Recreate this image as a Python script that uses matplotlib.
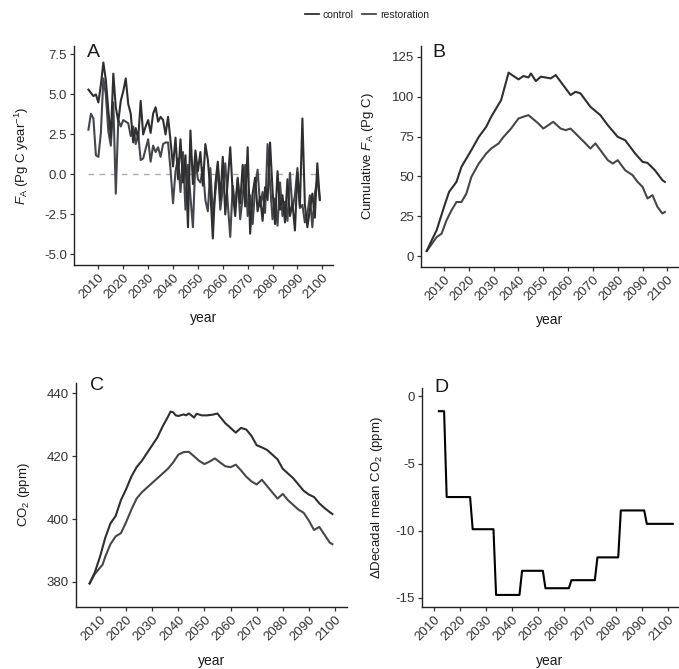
import numpy as np
import matplotlib
matplotlib.use("Agg")
import matplotlib.pyplot as plt
from matplotlib.lines import Line2D

plt.rcParams['font.family'] = ['Liberation Sans', 'DejaVu Sans']
plt.rcParams['mathtext.fontset'] = 'custom'
plt.rcParams['mathtext.rm'] = 'Liberation Sans'
plt.rcParams['mathtext.it'] = 'Liberation Sans:italic'
plt.rcParams['axes.unicode_minus'] = False

# ── data ─────────────────────────────────────────────────
years = np.arange(2006, 2100)

# A: annual atmospheric flux F_A (Pg C / year)
fa_control = [5.3, 5.1, 4.9, 5.0, 4.5, 5.6, 7.0, 5.9, 4.0, 2.3,
              6.3, 4.2, 3.3, 4.6, 5.2, 6.0, 4.4, 3.8, 2.0, 2.9,
              2.2, 4.6, 2.5, 3.0, 3.4, 2.6, 3.8, 4.2, 3.3, 3.6,
              3.4, 2.5, 3.6, 2.1, 0.5, 2.3, -0.3, 2.2, -0.5, 1.2,
              -3.3, 2.75, -0.6, 1.5, 0.2, 1.4, -0.7, 1.9, 0.9, -1.0,
              -4.0, -0.6, 0.8, -1.6, 1.1, -2.5, -0.4, 1.7, -1.2, -2.6,
              -0.3, -1.8, 0.6, -2.0, 1.7, -3.7, -1.2, -0.2, -2.3, -1.4,
              -2.9, -0.8, -1.6, 2.0, -1.0, -3.1, 0.2, -2.2, -1.3, -3.0,
              -0.3, -2.6, -1.8, -3.5, 0.1, -2.0, 3.5, -1.9, -3.3, -2.2,
              -1.2, -2.7, 0.7, -1.6]
fa_restoration = [2.8, 3.8, 3.5, 1.2, 1.1, 2.6, 6.0, 5.0, 2.7, 1.8,
                  4.5, -1.2, 3.4, 3.0, 3.4, 3.3, 3.2, 2.4, 3.0, 1.9,
                  2.5, 0.9, 1.0, 1.6, 2.2, 0.8, 1.8, 1.4, 1.7, 1.1,
                  1.9, 2.0, 2.0, 0.3, -1.8, 0.2, 1.0, -1.1, 1.4, -2.2,
                  0.6, -1.4, -3.3, 0.9, -0.3, -0.5, 0.4, -1.6, -2.3, 0.4,
                  -2.5, -1.2, 0.6, -2.2, -0.9, 0.7, -1.8, -3.9, -0.7, -2.0,
                  -0.2, -2.8, -1.4, 0.6, -2.6, -1.3, -3.1, -0.9, 0.3, -2.0,
                  -1.1, -2.4, 1.9, -0.6, -2.8, -1.5, -3.2, -0.5, -2.6, -1.7,
                  -2.9, 0.1, -2.2, -1.3, 0.4, -2.1, -1.9, -3.0, -2.5, -1.3,
                  -3.3, -1.2, -0.3, -1.5]

# B: cumulative F_A (Pg C)
cum_years_control = [2003, 2005, 2007, 2010, 2012, 2015, 2017, 2021, 2024, 2027,
                     2029, 2033, 2036, 2040, 2042, 2044, 2045, 2047, 2049, 2053,
                     2055, 2056, 2061, 2063, 2065, 2069, 2073, 2076, 2080, 2083,
                     2087, 2090, 2092, 2095, 2098, 2099]
cum_control = [3.3, 10, 16.3, 31, 40.3, 46.6, 56, 66.5, 74.8, 81.1,
               87.4, 97.8, 115, 110.8, 112.9, 112, 114.5, 109.7, 112.5, 111.4,
               113.5, 111.4, 101, 103, 102, 93.6, 88.4, 82.1, 74.8, 72.7,
               64.4, 59.2, 58.5, 53.9, 47.7, 46.6]
cum_years_restoration = [2003, 2007, 2009, 2011, 2013, 2015, 2017, 2019, 2021, 2024,
                         2027, 2029, 2032, 2034, 2037, 2040, 2042, 2044, 2048, 2050,
                         2052, 2054, 2057, 2059, 2061, 2063, 2067, 2069, 2071, 2074,
                         2076, 2078, 2080, 2083, 2086, 2088, 2090, 2092, 2094, 2096,
                         2098, 2099]
cum_restoration = [3.3, 12, 14.2, 22.6, 28.8, 34, 34, 39.3, 49.7, 58.1,
                   64.4, 67.5, 70.7, 74.8, 80, 86.3, 87.4, 88.4, 83.2, 80,
                   82.1, 84.2, 80, 79, 80, 76.9, 70.7, 67.5, 70.7, 64.4,
                   60.2, 58.1, 60.2, 53.9, 50.8, 46.6, 43.5, 36.2, 38.3, 31,
                   26.8, 27.8]

# C: atmospheric CO2 (ppm)
co2_years_control = [2006, 2008, 2010, 2012, 2014, 2016, 2018, 2020, 2022, 2024,
                     2026, 2028, 2030, 2032, 2034, 2036, 2037, 2038, 2039, 2040,
                     2042, 2043, 2044, 2045, 2046, 2047, 2049, 2051, 2053, 2055,
                     2056, 2058, 2060, 2062, 2064, 2066, 2068, 2070, 2072, 2074,
                     2076, 2078, 2080, 2082, 2084, 2086, 2088, 2090, 2092, 2094,
                     2096, 2098, 2099]
co2_control = [379.5, 383, 388, 394, 398.6, 401, 406, 409.5, 413.5, 416.5,
               418.5, 421, 423.5, 426, 429.5, 432.5, 434.2, 434, 433, 432.8,
               433.3, 433, 433.6, 433, 432.3, 433.5, 433, 433, 433.2, 433.6,
               432.5, 430.5, 429, 427.5, 429, 428.5, 426.5, 423.5, 422.8, 422,
               420.5, 419, 416, 414.5, 413, 411, 409, 407.8, 407, 405,
               403.5, 402.2, 401.6]
co2_years_restoration = [2006, 2008, 2010, 2011, 2012, 2014, 2016, 2018, 2020, 2022,
                         2024, 2026, 2028, 2030, 2032, 2034, 2036, 2038, 2040, 2042,
                         2044, 2046, 2048, 2050, 2052, 2054, 2056, 2058, 2060, 2062,
                         2064, 2066, 2068, 2070, 2072, 2074, 2076, 2078, 2080, 2082,
                         2084, 2086, 2088, 2090, 2092, 2094, 2096, 2098, 2099]
co2_restoration = [379.5, 382.5, 384.5, 385.5, 388, 392, 394.5, 395.5, 399, 403,
                   406.5, 408.5, 410, 411.5, 413, 414.5, 416, 418, 420.5, 421.3,
                   421.4, 420, 418.5, 417.5, 418.3, 419.3, 418, 416.8, 416.5, 417.3,
                   415.5, 413.5, 412, 411, 412.5, 410.5, 408.5, 406.5, 408, 406,
                   404.5, 403, 402, 399.5, 396.5, 397.5, 395, 392.5, 392]

# D: decadal mean CO2 difference, restoration - control (ppm)
dco2_years = [2012, 2014, 2015, 2024, 2025, 2033, 2034, 2043, 2044, 2052,
              2053, 2062, 2063, 2072, 2073, 2081, 2082, 2091, 2092, 2102]
dco2 = [-1.1, -1.1, -7.5, -7.5, -9.9, -9.9, -14.8, -14.8, -13.0, -13.0,
        -14.3, -14.3, -13.7, -13.7, -12.0, -12.0, -8.5, -8.5, -9.5, -9.5]

col_control = '#2f2f2f'
col_restoration = '#45474c'
tick_col = '#333333'

# ── figure ──────────────────────────────────────────
W, H = 679, 669
fig = plt.figure(figsize=(W / 100, H / 100), dpi=100)


def add_axes_px(left, top, right, bottom):
    return fig.add_axes([left / W, 1 - bottom / H, (right - left) / W, (bottom - top) / H])


def px_to_axes(ax, x, y):
    disp = fig.transFigure.transform((x / W, 1 - y / H))
    return ax.transAxes.inverted().transform(disp)


axA = add_axes_px(74, 46, 333, 265)
axB = add_axes_px(421, 46, 678.5, 267)
axC = add_axes_px(76, 383, 346.7, 607)
axD = add_axes_px(422, 388, 678, 607)

# A
axA.hlines(0, years[0], years[-1], colors='#aaaaaa', linestyles=(0, (4, 4)), lw=1.0)
axA.plot(years, fa_restoration, color=col_restoration, lw=1.5)
axA.plot(years, fa_control, color=col_control, lw=1.5)
axA.set_xlim(2000.2, 2104.3)
axA.set_ylim(-5.66, 8.03)
axA.set_yticks([-5.0, -2.5, 0.0, 2.5, 5.0, 7.5])
axA.set_yticklabels(['%.1f' % v for v in [-5.0, -2.5, 0.0, 2.5, 5.0, 7.5]])
axA.set_ylabel(r'$\mathit{F}_{\mathrm{A}}$ (Pg C year$^{-1}$)')

# B
axB.plot(cum_years_restoration, cum_restoration, color=col_restoration, lw=1.5)
axB.plot(cum_years_control, cum_control, color=col_control, lw=1.5)
axB.set_xlim(2000.7, 2104.5)
axB.set_ylim(-6.7, 131.7)
axB.set_yticks([0, 25, 50, 75, 100, 125])
axB.set_ylabel(r'Cumulative $\mathit{F}_{\mathrm{A}}$ (Pg C)')

# C
axC.plot(co2_years_restoration, co2_restoration, color=col_restoration, lw=1.5)
axC.plot(co2_years_control, co2_control, color=col_control, lw=1.5)
axC.set_xlim(2000.8, 2104.5)
axC.set_ylim(372.0, 443.3)
axC.set_yticks([380, 400, 420, 440])
axC.set_ylabel(r'CO$_2$ (ppm)')

# D
axD.plot(dco2_years, dco2, color='black', lw=1.5)
axD.set_xlim(2005.5, 2104)
axD.set_ylim(-15.7, 0.63)
axD.set_yticks([0, -5, -10, -15])
axD.set_ylabel(r'ΔDecadal mean CO$_2$ (ppm)')

ylab_x = {axA: 22, axB: 368, axC: 24, axD: 377}
xlab_y = {axA: 318, axB: 320, axC: 661, axD: 661}
for ax in [axA, axB, axC, axD]:
    for s in ['top', 'right']:
        ax.spines[s].set_visible(False)
    for s in ['left', 'bottom']:
        ax.spines[s].set_linewidth(1.0)
        ax.spines[s].set_color('#222222')
    ax.set_xticks(range(2010, 2101, 10))
    ax.tick_params(axis='both', direction='out', length=3, width=0.9,
                   color='#333333', labelcolor=tick_col, labelsize=9.5, pad=2)
    for lab in ax.get_xticklabels():
        lab.set_rotation(45)
        lab.set_ha('right')
        lab.set_va('top')
        lab.set_rotation_mode('anchor')
    ax.set_xlabel('year', fontsize=10, color='#1a1a1a')
    ax.yaxis.label.set_fontsize(9.5)
    ax.yaxis.label.set_color('#1a1a1a')
    ax.yaxis.label.set_va('center')
    ax.xaxis.label.set_va('center')
    ax.yaxis.set_label_coords(px_to_axes(ax, ylab_x[ax], 0)[0], 0.5)
    ax.xaxis.set_label_coords(0.5, px_to_axes(ax, 0, xlab_y[ax])[1])

# panel letters
for letter, x, y in [('A', 87, 57), ('B', 432, 57), ('C', 90, 390), ('D', 434, 391.5)]:
    fig.text(x / W, 1 - y / H, letter, fontsize=14, color='#1a1a1a', va='baseline', ha='left')

handles = [Line2D([], [], color=col_control, lw=1.3),
           Line2D([], [], color=col_restoration, lw=1.3)]
fig.legend(handles, ['control', 'restoration'], loc='center', ncol=2,
           bbox_to_anchor=(367 / W, 1 - 15 / H), frameon=False, fontsize=7.5,
           handlelength=1.3, handletextpad=0.4, columnspacing=0.8, labelcolor='#222222')

fig.savefig('out.png', dpi=100, facecolor='white')
